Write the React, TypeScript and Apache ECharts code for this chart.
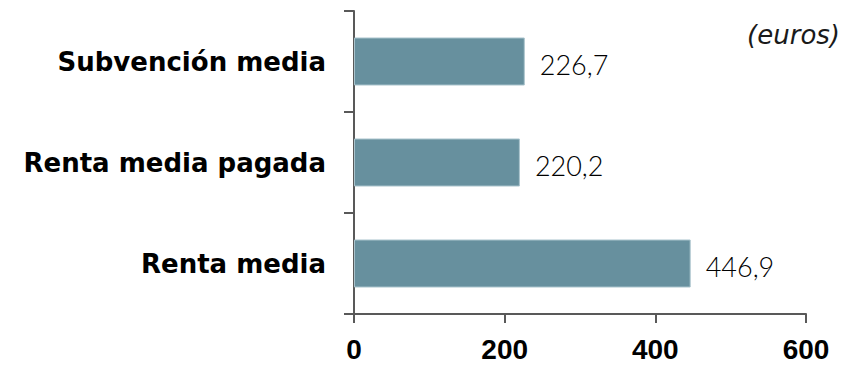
import React, { useEffect, useRef } from "react";
import * as echarts from "echarts";

const categories = ["Renta media", "Renta media pagada", "Subvención media"];
const values = [446.9, 220.2, 226.7];
const xTicks = [0, 200, 400, 600];
const unitLabel = "(euros)";

export default function App() {
  const ref = useRef<HTMLDivElement>(null);
  useEffect(() => {
    if (!ref.current) return;
    const chart = echarts.init(ref.current, null, { renderer: "svg" });
    chart.setOption({
      animation: false,
      backgroundColor: "#ffffff",
      grid: { left: 354, right: 46, top: 11, bottom: 52, containLabel: false },
      xAxis: {
        type: "value",
        min: xTicks[0],
        max: xTicks[xTicks.length - 1],
        interval: 200,
        splitLine: { show: false },
        axisLine: { show: true, lineStyle: { color: "#595959", width: 2 } },
        axisTick: { show: true, length: 9, lineStyle: { color: "#595959", width: 2 } },
        axisLabel: {
          margin: 21,
          fontFamily: "Liberation Sans",
          fontWeight: "bold",
          fontSize: 28,
          color: "#000000",
        },
      },
      yAxis: {
        type: "category",
        data: categories,
        axisLine: { show: true, lineStyle: { color: "#595959", width: 2 } },
        axisTick: { show: true, length: 10, lineStyle: { color: "#595959", width: 2 } },
        axisLabel: {
          margin: 28,
          fontFamily: "DejaVu Sans",
          fontWeight: "bold",
          fontSize: 26,
          color: "#000000",
        },
      },
      graphic: [
        {
          type: "text",
          right: 12,
          top: 22,
          style: {
            text: unitLabel,
            font: "italic 200 26px 'DejaVu Sans'",
            fill: "#1a1a1a",
          },
        },
      ],
      series: [
        {
          type: "bar",
          data: values,
          barWidth: 48,
          itemStyle: { color: "#67909e", borderColor: "#a9c3cc", borderWidth: 1 },
          label: {
            show: true,
            position: "right",
            distance: 15,
            offset: [0, 3],
            formatter: (p: any) => String(p.value).replace(".", ","),
            fontFamily: "Lato",
            fontWeight: 300,
            fontSize: 27,
            color: "#000000",
          },
        },
      ],
    });
    return () => chart.dispose();
  }, []);
  return (
    <div
      ref={ref}
      style={{ position: "fixed", left: 0, top: 0, width: 852, height: 366 }}
    />
  );
}
